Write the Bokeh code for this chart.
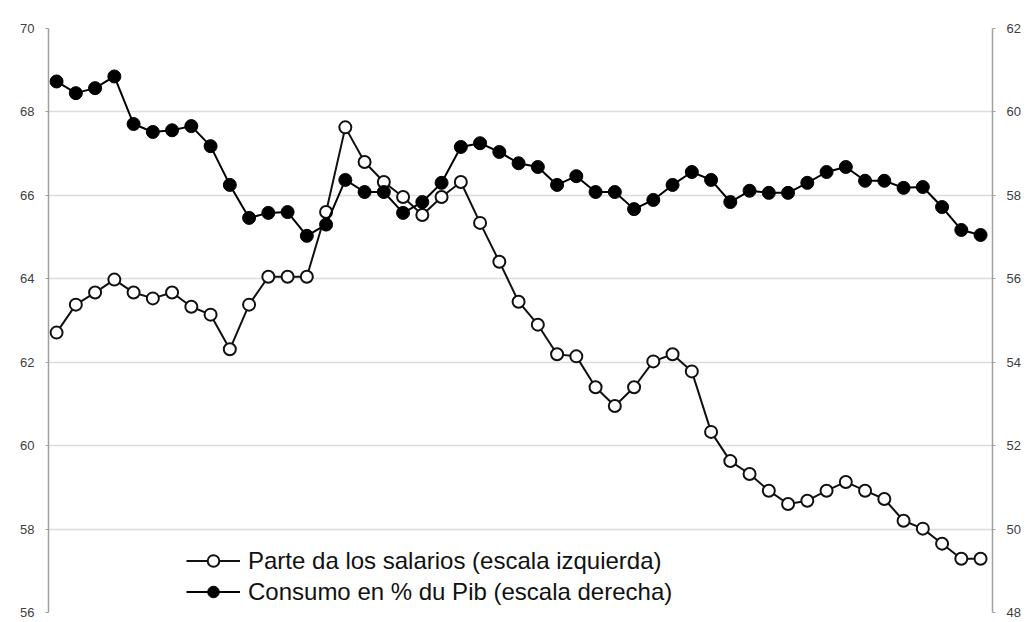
from bokeh.plotting import figure
from bokeh.models import Range1d, LinearAxis, Legend, LegendItem, FixedTicker
from bokeh.embed import file_html
from bokeh.resources import INLINE

years = list(range(1960, 2009))
salarios = [62.71, 63.38, 63.67, 63.98, 63.67, 63.53, 63.67, 63.33, 63.14, 62.31,
            63.38, 64.05, 64.05, 64.05, 65.60, 67.63, 66.80, 66.32, 65.96, 65.53,
            65.96, 66.32, 65.34, 64.41, 63.45, 62.90, 62.19, 62.14, 61.40, 60.95,
            61.40, 62.02, 62.19, 61.78, 60.33, 59.63, 59.32, 58.92, 58.60, 58.68,
            58.92, 59.13, 58.92, 58.72, 58.20, 58.01, 57.65, 57.29, 57.29]
consumo = [60.73, 60.45, 60.57, 60.85, 59.71, 59.52, 59.56, 59.66, 59.18, 58.25,
           57.46, 57.58, 57.60, 57.03, 57.30, 58.37, 58.08, 58.08, 57.58, 57.84,
           58.30, 59.16, 59.25, 59.04, 58.77, 58.68, 58.25, 58.46, 58.08, 58.08,
           57.67, 57.89, 58.25, 58.56, 58.37, 57.84, 58.11, 58.06, 58.06, 58.30,
           58.56, 58.68, 58.35, 58.35, 58.18, 58.20, 57.72, 57.17, 57.05]
left_ticks = [56, 58, 60, 62, 64, 66, 68, 70]
right_ticks = [48, 50, 52, 54, 56, 58, 60, 62]
label_sal = "Parte da los salarios (escala izquierda)"
label_con = "Consumo en % du Pib (escala derecha)"

p = figure(width=1030, height=620, output_backend="svg", toolbar_location=None,
           x_range=Range1d(1959.58, 2008.62), y_range=Range1d(56, 70),
           min_border_left=48, min_border_right=38, min_border_top=28, min_border_bottom=8)
p.extra_y_ranges = {"right": Range1d(48, 62)}
p.outline_line_color = None
p.background_fill_color = "white"
p.xaxis.visible = False
p.xgrid.visible = False
p.ygrid.grid_line_color = "#dcdcdc"
p.ygrid.grid_line_width = 1.5
p.yaxis.ticker = FixedTicker(ticks=left_ticks)

def style_axis(ax):
    ax.axis_line_color = "#a0a0a0"
    ax.axis_line_width = 1.5
    ax.major_tick_out = 3
    ax.major_tick_in = 0
    ax.major_tick_line_color = "#a0a0a0"
    ax.minor_tick_line_color = None
    ax.major_label_standoff = 11
    ax.major_label_text_font = "Liberation Sans"
    ax.major_label_text_font_size = "13px"
    ax.major_label_text_color = "#404040"

style_axis(p.yaxis[0])
rax = LinearAxis(y_range_name="right", ticker=FixedTicker(ticks=right_ticks))
style_axis(rax)
p.add_layout(rax, "right")

l1 = p.line(years, salarios, line_color="#111111", line_width=2)
s1 = p.scatter(years, salarios, marker="circle", size=12, fill_color="white",
               line_color="#111111", line_width=2)
l2 = p.line(years, consumo, line_color="#000000", line_width=2, y_range_name="right")
s2 = p.scatter(years, consumo, marker="circle", size=13, fill_color="#000000",
               line_color="#000000", y_range_name="right")

legend = Legend(items=[LegendItem(label=label_sal, renderers=[l1, s1]),
                       LegendItem(label=label_con, renderers=[l2, s2])],
                location=(138, 6))
legend.border_line_color = None
legend.background_fill_alpha = 0
legend.glyph_width = 54
legend.glyph_height = 29
legend.spacing = 2
legend.padding = 2
legend.label_standoff = 8
legend.label_text_font = "Liberation Sans"
legend.label_text_font_size = "24px"
legend.label_text_color = "#111111"
p.add_layout(legend, "center")

open("out.html", "w").write(file_html(p, INLINE))
